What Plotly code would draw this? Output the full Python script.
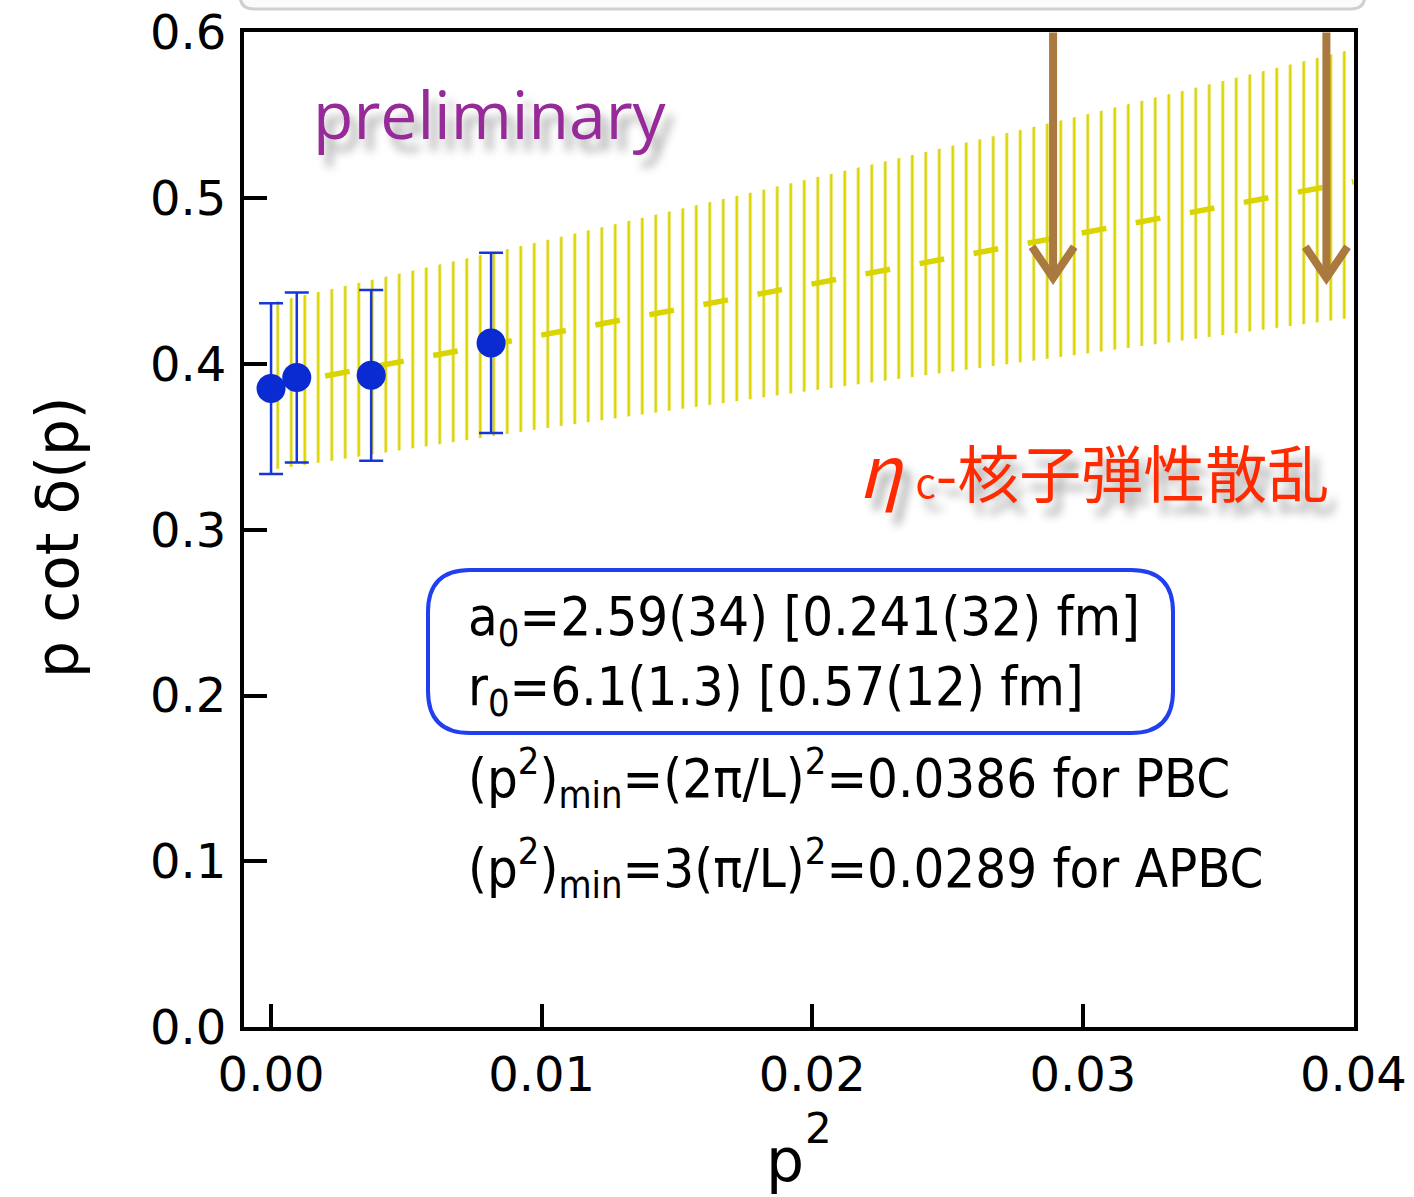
import plotly.graph_objects as go

# ---- data ----
p2 = [0.0, 0.00095, 0.0037, 0.00813]
pcot = [0.3852, 0.3919, 0.3932, 0.4127]
pcot_err = [0.0515, 0.0513, 0.0515, 0.0544]

fit_x = [0.0, 0.040]
fit_y = [0.3866, 0.510]

band_x = [0.0, 0.01, 0.02, 0.03, 0.04]
band_upper = [0.437, 0.474, 0.512, 0.550, 0.590]
band_lower = [0.336, 0.361, 0.384, 0.406, 0.428]

arrow_x = [0.0289, 0.0390]
arrow_tip = 0.452

x_ticks = [0.00, 0.01, 0.02, 0.03, 0.04]
y_ticks = [0.0, 0.1, 0.2, 0.3, 0.4, 0.5, 0.6]

YEL = "rgb(218,212,0)"
BLUE = "#0a2bd2"
BROWN = "#a9793f"

W, H = 1414, 1197
L, R, T, B = 244, 60, 32, 170
PW, PH = W - L - R, H - T - B


def px(X):
    return (X - L) / PW


def py(Y):
    return (H - B - Y) / PH


fig = go.Figure()

# hatched error band
fig.add_trace(go.Scatter(x=band_x, y=band_lower, mode="lines", line=dict(width=0),
                         hoverinfo="skip", showlegend=False))
fig.add_trace(go.Scatter(x=band_x, y=band_upper, mode="lines", line=dict(width=0),
                         fill="tonexty", fillcolor="rgba(0,0,0,0)",
                         fillpattern=dict(shape="|", size=13.5, solidity=0.2,
                                          fgcolor=YEL, fgopacity=1,
                                          bgcolor="rgba(0,0,0,0)"),
                         hoverinfo="skip", showlegend=False))

# dashed fit line
fig.add_trace(go.Scatter(x=fit_x, y=fit_y, mode="lines",
                         line=dict(color=YEL, width=5.5, dash="25px,30px"),
                         showlegend=False))

# arrows
dx, dy = 0.00078, 0.0187
for ax in arrow_x:
    fig.add_trace(go.Scatter(
        x=[ax, ax, None, ax - dx, ax, ax + dx],
        y=[0.6, arrow_tip, None, arrow_tip + dy, arrow_tip, arrow_tip + dy],
        mode="lines", line=dict(color=BROWN, width=8), showlegend=False))

# data points
fig.add_trace(go.Scatter(x=p2, y=pcot, mode="markers",
                         marker=dict(color=BLUE, size=29, line=dict(width=0)),
                         error_y=dict(type="data", array=pcot_err, color="#1636d8",
                                      thickness=2.5, width=12),
                         showlegend=False))

TICKFONT = dict(family="DejaVu Sans, sans-serif", size=48, color="black")

fig.update_layout(
    width=W, height=H,
    margin=dict(l=L, r=R, t=T, b=B),
    plot_bgcolor="white", paper_bgcolor="white",
    xaxis=dict(range=[-0.001, 0.04002], tickvals=x_ticks, tickformat=".2f",
               showline=True, linecolor="black", linewidth=4, mirror=True,
               ticks="inside", ticklen=23, tickwidth=4, tickcolor="black",
               showgrid=False, zeroline=False, tickfont=TICKFONT,
               ticklabelstandoff=2, automargin=False),
    yaxis=dict(range=[0, 0.6003], tickvals=y_ticks, tickformat=".1f",
               showline=True, linecolor="black", linewidth=4, mirror=True,
               ticks="inside", ticklen=23, tickwidth=4, tickcolor="black",
               showgrid=False, zeroline=False, tickfont=TICKFONT,
               ticklabelstandoff=4, automargin=False),
)

shapes = []
# cut-off grey box at the top
x0, x1 = px(240), px(1365)
yb, yt = py(9), py(-40)
r = 14 / PW
ry = 14 / PH
shapes.append(dict(
    type="path", xref="paper", yref="paper",
    path=(f"M {x0},{yt} L {x0},{yb+ry} Q {x0},{yb} {x0+r},{yb} "
          f"L {x1-r},{yb} Q {x1},{yb} {x1},{yb+ry} L {x1},{yt} Z"),
    line=dict(color="#cfcfcf", width=3), fillcolor="#fbfbfb", layer="above"))

# rounded blue box
bx0, bx1, by0, by1 = px(428), px(1173), py(733), py(570)
rx, ryy = 42 / PW, 42 / PH
shapes.append(dict(
    type="path", xref="paper", yref="paper",
    path=(f"M {bx0+rx},{by0} L {bx1-rx},{by0} Q {bx1},{by0} {bx1},{by0+ryy} "
          f"L {bx1},{by1-ryy} Q {bx1},{by1} {bx1-rx},{by1} "
          f"L {bx0+rx},{by1} Q {bx0},{by1} {bx0},{by1-ryy} "
          f"L {bx0},{by0+ryy} Q {bx0},{by0} {bx0+rx},{by0} Z"),
    line=dict(color="#1f3ff0", width=4), fillcolor="rgba(0,0,0,0)", layer="above"))
fig.update_layout(shapes=shapes)

ann = []
BOXFONT = dict(family="Liberation Sans Narrow, DejaVu Sans Condensed, Arial Narrow, sans-serif",
               size=54, color="black")
lines = [
    ("a<sub>0</sub>=2.59(34) [0.241(32) fm]", 620),
    ("r<sub>0</sub>=6.1(1.3) [0.57(12) fm]", 690),
    ("(p<sup>2</sup>)<sub>min</sub>=(2π/L)<sup>2</sup>=0.0386 for PBC", 778),
    ("(p<sup>2</sup>)<sub>min</sub>=3(π/L)<sup>2</sup>=0.0289 for APBC", 868),
]
for txt, yy in lines:
    ann.append(dict(text=txt, xref="paper", yref="paper", x=px(466), y=py(yy),
                    xanchor="left", yanchor="middle", showarrow=False, font=BOXFONT))

ann.append(dict(text="preliminary", xref="paper", yref="paper", x=px(490), y=py(113),
                xanchor="center", yanchor="middle", showarrow=False,
                font=dict(family="Open Sans, sans-serif", size=66, color="#952a98",
                          shadow="8px 12px 10px rgba(0,0,0,0.35)")))
ann.append(dict(text="<span style='font-size:72px'><i>η</i></span> <span style='font-size:40px'>c</span>-核子弾性散乱",
                xref="paper", yref="paper", x=px(1093), y=py(466),
                xanchor="center", yanchor="middle", showarrow=False,
                font=dict(family="Noto Sans CJK JP, sans-serif", size=62, color="#ff2a00",
                          shadow="8px 12px 10px rgba(0,0,0,0.35)")))

# axis titles
ann.append(dict(text="p cot δ(p)", xref="paper", yref="paper", x=px(58), y=py(538),
                xanchor="center", yanchor="middle", textangle=-90, showarrow=False,
                font=dict(family="DejaVu Sans, sans-serif", size=58, color="black")))
ann.append(dict(text="p", xref="paper", yref="paper", x=px(785), y=py(1160),
                xanchor="center", yanchor="middle", showarrow=False,
                font=dict(family="DejaVu Sans, sans-serif", size=60, color="black")))
ann.append(dict(text="2", xref="paper", yref="paper", x=px(818), y=py(1128),
                xanchor="center", yanchor="middle", showarrow=False,
                font=dict(family="DejaVu Sans, sans-serif", size=42, color="black")))
fig.update_layout(annotations=ann)

fig.write_html("out.html")
